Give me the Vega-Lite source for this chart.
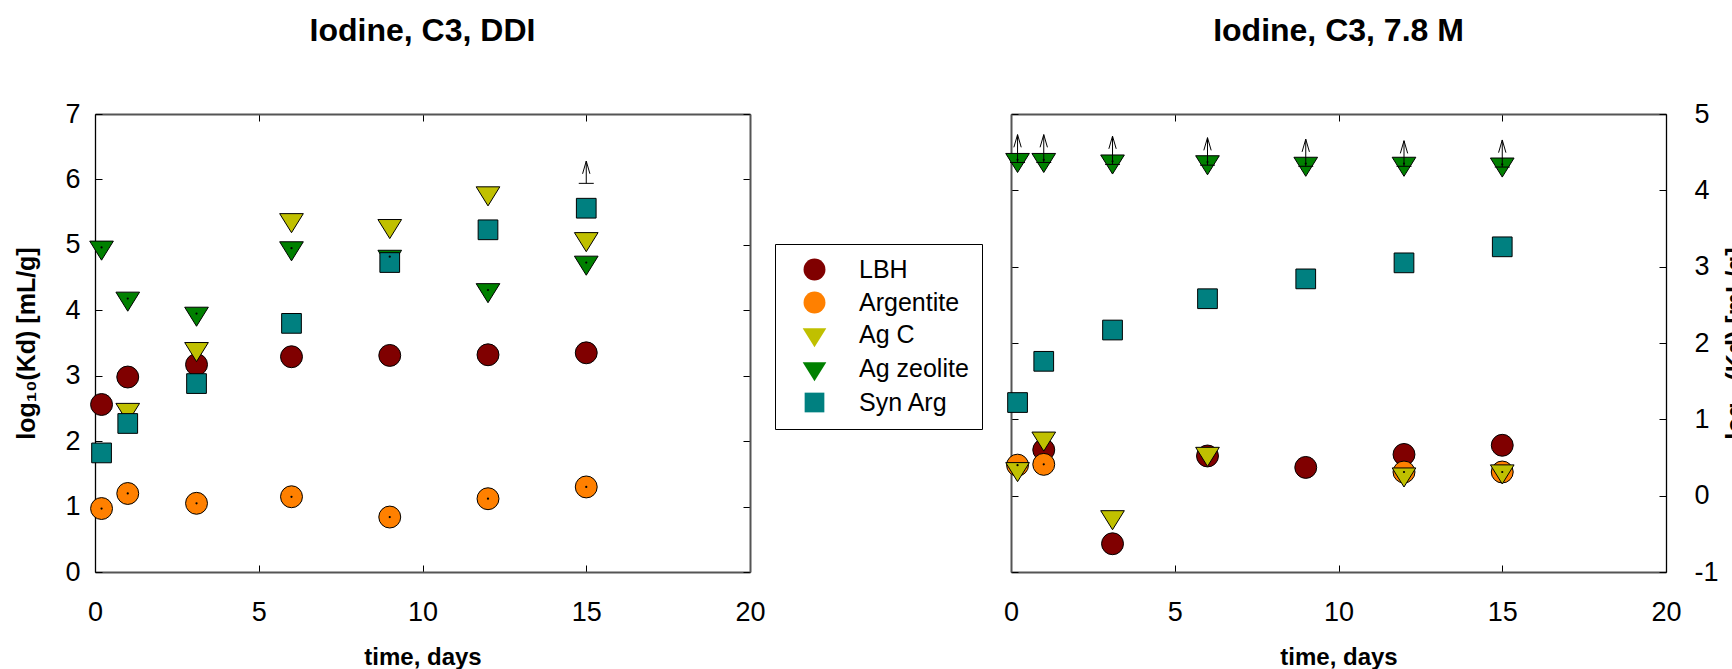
{
  "$schema": "https://vega.github.io/schema/vega-lite/v6.json",
  "background": "white",
  "padding": {"left": 14, "top": 15, "right": 0, "bottom": 0},
  "spacing": 237,
  "datasets": {
    "ddi": [
      {"t": 0.2, "kd": 2.56, "series": "LBH"},
      {"t": 1, "kd": 2.98, "series": "LBH"},
      {"t": 3.1, "kd": 3.17, "series": "LBH"},
      {"t": 6, "kd": 3.29, "series": "LBH"},
      {"t": 9, "kd": 3.31, "series": "LBH"},
      {"t": 12, "kd": 3.32, "series": "LBH"},
      {"t": 15, "kd": 3.35, "series": "LBH"},
      {"t": 0.2, "kd": 0.97, "series": "Argentite"},
      {"t": 1, "kd": 1.2, "series": "Argentite"},
      {"t": 3.1, "kd": 1.05, "series": "Argentite"},
      {"t": 6, "kd": 1.15, "series": "Argentite"},
      {"t": 9, "kd": 0.84, "series": "Argentite"},
      {"t": 12, "kd": 1.12, "series": "Argentite"},
      {"t": 15, "kd": 1.3, "series": "Argentite"},
      {"t": 1, "kd": 2.48, "series": "Ag C"},
      {"t": 3.1, "kd": 3.41, "series": "Ag C"},
      {"t": 6, "kd": 5.38, "series": "Ag C"},
      {"t": 9, "kd": 5.29, "series": "Ag C"},
      {"t": 12, "kd": 5.79, "series": "Ag C"},
      {"t": 15, "kd": 5.09, "series": "Ag C"},
      {"t": 0.2, "kd": 4.96, "series": "Ag zeolite"},
      {"t": 1, "kd": 4.18, "series": "Ag zeolite"},
      {"t": 3.1, "kd": 3.95, "series": "Ag zeolite"},
      {"t": 6, "kd": 4.95, "series": "Ag zeolite"},
      {"t": 9, "kd": 4.82, "series": "Ag zeolite"},
      {"t": 12, "kd": 4.31, "series": "Ag zeolite"},
      {"t": 15, "kd": 4.73, "series": "Ag zeolite"},
      {"t": 0.2, "kd": 1.82, "series": "Syn Arg"},
      {"t": 1, "kd": 2.27, "series": "Syn Arg"},
      {"t": 3.1, "kd": 2.88, "series": "Syn Arg"},
      {"t": 6, "kd": 3.8, "series": "Syn Arg"},
      {"t": 9, "kd": 4.73, "series": "Syn Arg"},
      {"t": 12, "kd": 5.23, "series": "Syn Arg"},
      {"t": 15, "kd": 5.56, "series": "Syn Arg"}
    ],
    "m78": [
      {"t": 1, "kd": 0.6, "series": "LBH"},
      {"t": 3.1, "kd": -0.63, "series": "LBH"},
      {"t": 6, "kd": 0.52, "series": "LBH"},
      {"t": 9, "kd": 0.37, "series": "LBH"},
      {"t": 12, "kd": 0.54, "series": "LBH"},
      {"t": 15, "kd": 0.66, "series": "LBH"},
      {"t": 0.2, "kd": 0.4, "series": "Argentite"},
      {"t": 1, "kd": 0.41, "series": "Argentite"},
      {"t": 12, "kd": 0.31, "series": "Argentite"},
      {"t": 15, "kd": 0.31, "series": "Argentite"},
      {"t": 0.2, "kd": 0.35, "series": "Ag C"},
      {"t": 1, "kd": 0.75, "series": "Ag C"},
      {"t": 3.1, "kd": -0.28, "series": "Ag C"},
      {"t": 6, "kd": 0.55, "series": "Ag C"},
      {"t": 12, "kd": 0.28, "series": "Ag C"},
      {"t": 15, "kd": 0.32, "series": "Ag C"},
      {"t": 0.2, "kd": 4.4, "series": "Ag zeolite"},
      {"t": 1, "kd": 4.4, "series": "Ag zeolite"},
      {"t": 3.1, "kd": 4.38, "series": "Ag zeolite"},
      {"t": 6, "kd": 4.37, "series": "Ag zeolite"},
      {"t": 9, "kd": 4.35, "series": "Ag zeolite"},
      {"t": 12, "kd": 4.35, "series": "Ag zeolite"},
      {"t": 15, "kd": 4.34, "series": "Ag zeolite"},
      {"t": 0.2, "kd": 1.22, "series": "Syn Arg"},
      {"t": 1, "kd": 1.76, "series": "Syn Arg"},
      {"t": 3.1, "kd": 2.17, "series": "Syn Arg"},
      {"t": 6, "kd": 2.58, "series": "Syn Arg"},
      {"t": 9, "kd": 2.84, "series": "Syn Arg"},
      {"t": 12, "kd": 3.05, "series": "Syn Arg"},
      {"t": 15, "kd": 3.26, "series": "Syn Arg"}
    ],
    "ddiLimits": [
      {"t": 15, "base": 5.94, "tip": 6.28}
    ],
    "m78Limits": [
      {"t": 0.2, "base": 4.365, "tip": 4.73},
      {"t": 1, "base": 4.365, "tip": 4.73},
      {"t": 3.1, "base": 4.34, "tip": 4.71},
      {"t": 6, "base": 4.33, "tip": 4.69},
      {"t": 9, "base": 4.315, "tip": 4.67},
      {"t": 12, "base": 4.315, "tip": 4.65},
      {"t": 15, "base": 4.305, "tip": 4.66}
    ]
  },
  "hconcat": [
    {
      "width": 655,
      "height": 458,
      "title": {"text": "Iodine, C3, DDI", "frame": "group", "anchor": "middle", "baseline": "alphabetic", "offset": 27},
      "resolve": {"axis": {"x": "independent", "y": "independent"}},
      "layer": [
        {
          "data": {"name": "ddi"},
          "mark": {"type": "point", "filled": true, "size": 480, "stroke": "black", "strokeWidth": 1, "opacity": 1},
          "encoding": {
            "x": {"field": "t", "type": "quantitative", "scale": {"domain": [0, 20], "nice": false, "zero": false},
                  "axis": {"orient": "bottom", "values": [0, 5, 10, 15, 20], "title": "time, days", "titleFontSize": 24,
                           "titleX": 327.5, "titleY": 92, "titleBaseline": "alphabetic", "titleAlign": "center", "labelPadding": 34}},
            "y": {"field": "kd", "type": "quantitative", "scale": {"domain": [0, 7], "nice": false, "zero": false},
                  "axis": {"orient": "left", "values": [0, 1, 2, 3, 4, 5, 6, 7], "title": "log₁₀(Kd) [mL/g]",
                           "titleX": -61, "titleY": 229, "titleAngle": -90, "titleBaseline": "alphabetic", "titleAlign": "center",
                           "domainColor": "black", "domainWidth": 1.3, "labelPadding": 22}},
            "fill": {"field": "series", "type": "nominal",
                     "scale": {"domain": ["LBH", "Argentite", "Ag C", "Ag zeolite", "Syn Arg"],
                               "range": ["#800000", "#ff8000", "#c0c000", "#008000", "#008080"]},
                     "legend": {"title": null}},
            "shape": {"field": "series", "type": "nominal",
                      "scale": {"domain": ["LBH", "Argentite", "Ag C", "Ag zeolite", "Syn Arg"],
                                "range": ["circle", "circle", "M-1.08,-0.58L1.08,-0.58L0,1.16Z", "M-1.08,-0.58L1.08,-0.58L0,1.16Z", "M-0.9,-0.9L0.9,-0.9L0.9,0.9L-0.9,0.9Z"]},
                      "legend": {"title": null}}
          }
        },
        {
          "data": {"name": "ddi"},
          "transform": [{"filter": {"field": "series", "oneOf": ["Argentite", "Ag zeolite"]}}],
          "mark": {"type": "point", "filled": true, "size": 5, "color": "black", "opacity": 1},
          "encoding": {
            "x": {"field": "t", "type": "quantitative", "scale": {"domain": [0, 20], "nice": false, "zero": false}, "axis": null},
            "y": {"field": "kd", "type": "quantitative", "scale": {"domain": [0, 7], "nice": false, "zero": false}, "axis": null}
          }
        },
        {
          "data": {"name": "ddiLimits"},
          "mark": {"type": "rule", "color": "black", "strokeWidth": 1},
          "encoding": {
            "x": {"field": "t", "type": "quantitative", "scale": {"domain": [0, 20], "nice": false, "zero": false},
                  "axis": {"orient": "top", "values": [0, 5, 10, 15, 20], "labels": false, "title": null}},
            "y": {"field": "base", "type": "quantitative", "scale": {"domain": [0, 7], "nice": false, "zero": false},
                  "axis": {"orient": "right", "values": [0, 1, 2, 3, 4, 5, 6, 7], "labels": false, "title": null}},
            "y2": {"field": "tip"}
          }
        },
        {
          "data": {"name": "ddiLimits"},
          "mark": {"type": "point", "shape": "M-0.58,2L0,0L0.58,2", "size": 161, "filled": false, "stroke": "black", "strokeWidth": 1, "opacity": 1},
          "encoding": {
            "x": {"field": "t", "type": "quantitative", "scale": {"domain": [0, 20], "nice": false, "zero": false}, "axis": null},
            "y": {"field": "tip", "type": "quantitative", "scale": {"domain": [0, 7], "nice": false, "zero": false}, "axis": null}
          }
        },
        {
          "data": {"name": "ddiLimits"},
          "mark": {"type": "point", "shape": "M-1,0L1,0", "size": 225, "filled": false, "stroke": "black", "strokeWidth": 1, "opacity": 1},
          "encoding": {
            "x": {"field": "t", "type": "quantitative", "scale": {"domain": [0, 20], "nice": false, "zero": false}, "axis": null},
            "y": {"field": "base", "type": "quantitative", "scale": {"domain": [0, 7], "nice": false, "zero": false}, "axis": null}
          }
        }
      ]
    },
    {
      "width": 655,
      "height": 458,
      "title": {"text": "Iodine, C3, 7.8 M", "frame": "group", "anchor": "middle", "baseline": "alphabetic", "offset": 27},
      "resolve": {"axis": {"x": "independent", "y": "independent"}},
      "layer": [
        {
          "data": {"name": "m78"},
          "mark": {"type": "point", "filled": true, "size": 480, "stroke": "black", "strokeWidth": 1, "opacity": 1},
          "encoding": {
            "x": {"field": "t", "type": "quantitative", "scale": {"domain": [0, 20], "nice": false, "zero": false},
                  "axis": {"orient": "bottom", "values": [0, 5, 10, 15, 20], "title": "time, days", "titleFontSize": 24,
                           "titleX": 327.5, "titleY": 92, "titleBaseline": "alphabetic", "titleAlign": "center", "labelPadding": 34}},
            "y": {"field": "kd", "type": "quantitative", "scale": {"domain": [-1, 5], "nice": false, "zero": false},
                  "axis": {"orient": "right", "values": [-1, 0, 1, 2, 3, 4, 5], "labelExpr": "'' + datum.value",
                           "title": "log₁₀(Kd) [mL/g]",
                           "titleX": 77, "titleY": 229, "titleAngle": -90, "titleBaseline": "alphabetic", "titleAlign": "center",
                           "domainColor": "black", "domainWidth": 1.3, "labelPadding": 35}},
            "fill": {"field": "series", "type": "nominal",
                     "scale": {"domain": ["LBH", "Argentite", "Ag C", "Ag zeolite", "Syn Arg"],
                               "range": ["#800000", "#ff8000", "#c0c000", "#008000", "#008080"]},
                     "legend": {"title": null}},
            "shape": {"field": "series", "type": "nominal",
                      "scale": {"domain": ["LBH", "Argentite", "Ag C", "Ag zeolite", "Syn Arg"],
                                "range": ["circle", "circle", "M-1.08,-0.58L1.08,-0.58L0,1.16Z", "M-1.08,-0.58L1.08,-0.58L0,1.16Z", "M-0.9,-0.9L0.9,-0.9L0.9,0.9L-0.9,0.9Z"]},
                      "legend": {"title": null}}
          }
        },
        {
          "data": {"name": "m78"},
          "transform": [{"filter": {"field": "series", "oneOf": ["Argentite", "Ag zeolite"]}}],
          "mark": {"type": "point", "filled": true, "size": 5, "color": "black", "opacity": 1},
          "encoding": {
            "x": {"field": "t", "type": "quantitative", "scale": {"domain": [0, 20], "nice": false, "zero": false}, "axis": null},
            "y": {"field": "kd", "type": "quantitative", "scale": {"domain": [-1, 5], "nice": false, "zero": false}, "axis": null}
          }
        },
        {
          "data": {"name": "m78Limits"},
          "mark": {"type": "rule", "color": "black", "strokeWidth": 1},
          "encoding": {
            "x": {"field": "t", "type": "quantitative", "scale": {"domain": [0, 20], "nice": false, "zero": false},
                  "axis": {"orient": "top", "values": [0, 5, 10, 15, 20], "labels": false, "title": null}},
            "y": {"field": "base", "type": "quantitative", "scale": {"domain": [-1, 5], "nice": false, "zero": false},
                  "axis": {"orient": "left", "values": [-1, 0, 1, 2, 3, 4, 5], "labels": false, "title": null}},
            "y2": {"field": "tip"}
          }
        },
        {
          "data": {"name": "m78Limits"},
          "mark": {"type": "point", "shape": "M-0.58,2L0,0L0.58,2", "size": 161, "filled": false, "stroke": "black", "strokeWidth": 1, "opacity": 1},
          "encoding": {
            "x": {"field": "t", "type": "quantitative", "scale": {"domain": [0, 20], "nice": false, "zero": false}, "axis": null},
            "y": {"field": "tip", "type": "quantitative", "scale": {"domain": [-1, 5], "nice": false, "zero": false}, "axis": null}
          }
        },
        {
          "data": {"name": "m78Limits"},
          "mark": {"type": "point", "shape": "M-1,0L1,0", "size": 225, "filled": false, "stroke": "black", "strokeWidth": 1, "opacity": 1},
          "encoding": {
            "x": {"field": "t", "type": "quantitative", "scale": {"domain": [0, 20], "nice": false, "zero": false}, "axis": null},
            "y": {"field": "base", "type": "quantitative", "scale": {"domain": [-1, 5], "nice": false, "zero": false}, "axis": null}
          }
        }
      ]
    }
  ],
  "resolve": {"scale": {"fill": "shared", "shape": "shared"}},
  "config": {
    "font": "Liberation Sans",
    "view": {"stroke": null},
    "title": {"font": "Liberation Sans", "fontSize": 32, "fontWeight": "bold", "color": "black"},
    "axis": {
      "grid": false,
      "labelFont": "Liberation Sans", "labelFontSize": 27, "labelColor": "black",
      "labelFlush": false, "labelOverlap": false,
      "titleFont": "Liberation Sans", "titleFontSize": 25, "titleFontWeight": "bold", "titleColor": "black",
      "tickColor": "black", "tickWidth": 1, "tickSize": -7,
      "domainColor": "#555555", "domainWidth": 2
    },
    "legend": {
      "orient": "none", "legendX": 680, "legendY": 130,
      "strokeColor": "black", "strokeWidth": 1, "fillColor": "white",
      "padding": 13, "symbolOffset": 14, "symbolSize": 480,
      "symbolStrokeColor": "black", "symbolStrokeWidth": 1,
      "labelFont": "Liberation Sans", "labelFontSize": 25, "labelColor": "black",
      "labelOffset": 32, "rowPadding": 6
    }
  }
}
